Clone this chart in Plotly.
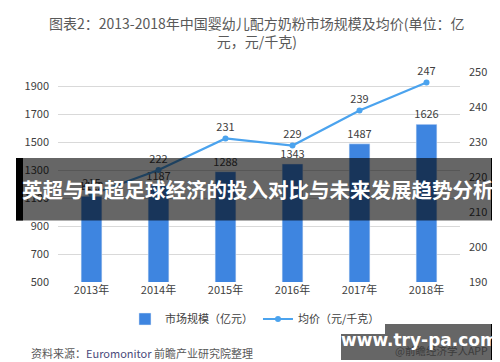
import plotly.graph_objects as go

years = ["2013年", "2014年", "2015年", "2016年", "2017年", "2018年"]
market_size = [1112, 1187, 1288, 1343, 1487, 1626]
avg_price = [215, 222, 231, 229, 239, 247]
left_ticks = [500, 700, 900, 1100, 1300, 1500, 1700, 1900]
right_ticks = [190, 200, 210, 220, 230, 240, 250]

W, H = 500, 362
L, R, T, B = 50, 452, 64, 274

def px(x):
    return (x - L) / (R - L)

def py(y):
    return (B - y) / (B - T)

FONT = "Noto Sans CJK SC, Microsoft YaHei, sans-serif"

fig = go.Figure()
fig.add_trace(go.Bar(
    x=years, y=market_size, name="市场规模（亿元）",
    marker=dict(color="#3E85E0"), width=0.31,
    text=[str(v) for v in market_size], textposition="outside",
    constraintext="none",
    textfont=dict(size=11, color="#404040"), cliponaxis=False,
))
fig.add_trace(go.Scatter(
    x=years, y=avg_price, name="均价（元/千克）", yaxis="y2",
    mode="lines+markers+text",
    line=dict(color="#4BA3EE", width=2.2),
    marker=dict(size=6, color="#4BA3EE"),
    text=[str(v) for v in avg_price], textposition="top center",
    textfont=dict(size=11, color="#404040"), cliponaxis=False,
))

fig.update_layout(
    width=W, height=H,
    margin=dict(l=L, r=W - R, t=T, b=H - B),
    paper_bgcolor="white", plot_bgcolor="white",
    font=dict(family=FONT, size=11, color="#404040"),
    showlegend=True,
    legend=dict(orientation="h", x=0.49, xanchor="center", y=py(311), yanchor="middle",
                font=dict(size=11, color="#404040"), itemwidth=30, tracegroupgap=0),
    xaxis=dict(showgrid=False, showline=False, ticks="", tickfont=dict(size=11, color="#404040")),
    yaxis=dict(range=[500, 2000], tickvals=left_ticks, showgrid=True, gridcolor="#D9D9D9",
               gridwidth=1, zeroline=False, showline=False, ticks="",
               tickfont=dict(size=11, color="#404040"), ticklabelstandoff=8),
    yaxis2=dict(range=[190, 250], tickvals=right_ticks, overlaying="y", side="right",
                showgrid=False, zeroline=False, showline=False, ticks="",
                tickfont=dict(size=11, color="#404040"), ticklabelstandoff=8),
)

annotations = [
    dict(text="图表2：2013-2018年中国婴幼儿配方奶粉市场规模及均价(单位：亿<br>元，元/千克)",
         x=px(249), y=py(24), xref="paper", yref="paper", showarrow=False,
         xanchor="center", yanchor="middle", align="center",
         font=dict(size=14, color="#595959", family=FONT)),
    dict(text="资料来源：<span style='color:#4a4a7a'>Euromonitor</span> 前瞻产业研究院整理",
         x=px(21), y=py(345), xref="paper", yref="paper", showarrow=False,
         xanchor="left", yanchor="middle", font=dict(size=11, color="#595959", family=FONT)),
    dict(text="@前瞻经济学人APP", x=px(482), y=py(342), xref="paper", yref="paper",
         showarrow=False, xanchor="right", yanchor="middle",
         font=dict(size=10.5, color="#3c3c3c", family=FONT)),
    dict(text="<b>英超与中超足球经济的投入对比与未来发展趋势分析</b>",
         x=px(250), y=py(181), xref="paper", yref="paper", showarrow=False,
         xanchor="center", yanchor="middle",
         font=dict(size=20.5, color="white", family=FONT)),
    dict(text="<b>www.try-pa.com</b>", x=px(411), y=py(332), xref="paper", yref="paper",
         showarrow=False, xanchor="center", yanchor="middle",
         font=dict(size=17, color="white", family="DejaVu Sans, sans-serif")),
]
fig.update_layout(annotations=annotations)

shapes = [
    dict(type="rect", xref="paper", yref="paper", x0=px(8), x1=px(483), y0=py(212.5), y1=py(150),
         fillcolor="rgba(0,0,0,0.6)", line=dict(width=0), layer="above"),
    dict(type="rect", xref="paper", yref="paper", x0=px(8), x1=px(15), y0=py(212.5), y1=py(150),
         fillcolor="black", line=dict(width=0), layer="above"),
    dict(type="rect", xref="paper", yref="paper", x0=px(483), x1=px(492), y0=py(212.5), y1=py(150),
         fillcolor="black", line=dict(width=0), layer="above"),
    dict(type="rect", xref="paper", yref="paper", x0=px(333), x1=px(483), y0=py(352), y1=py(316),
         fillcolor="rgba(0,0,0,0.6)", line=dict(width=0), layer="above"),
    dict(type="rect", xref="paper", yref="paper", x0=px(483), x1=px(491), y0=py(352), y1=py(316),
         fillcolor="black", line=dict(width=0), layer="above"),
]
fig.update_layout(shapes=shapes)

fig.write_html("out.html")
